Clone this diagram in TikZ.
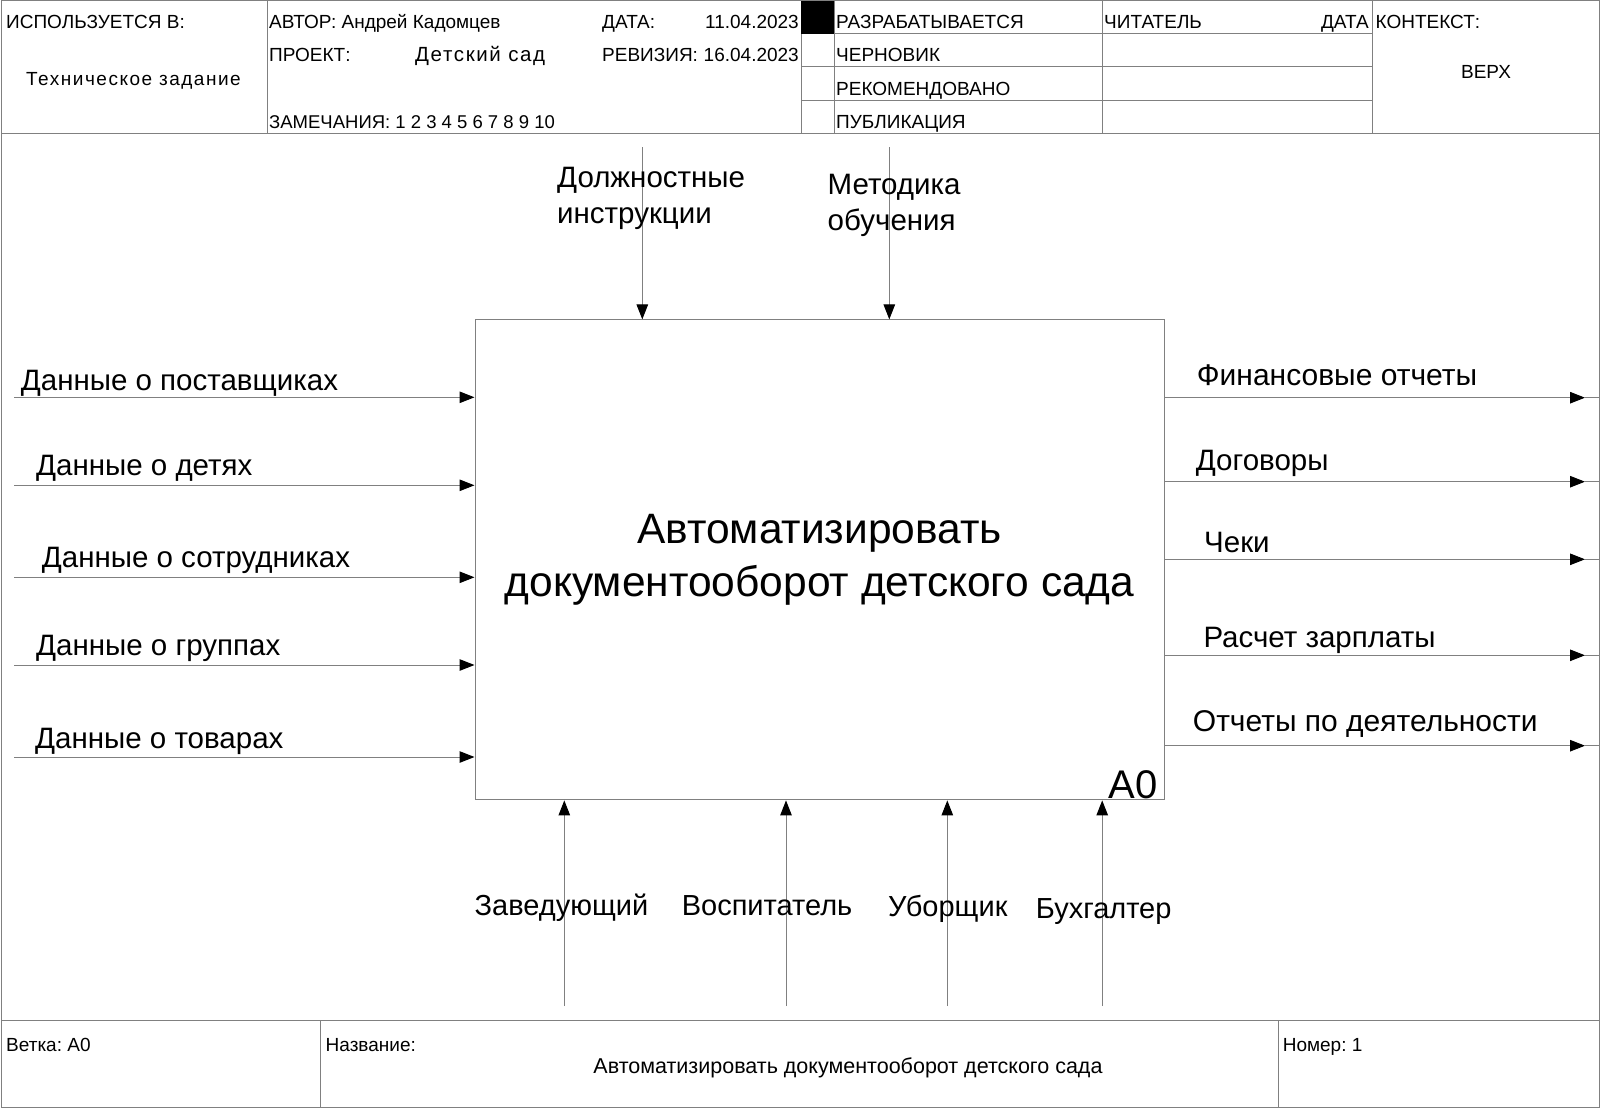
\documentclass[tikz,border=0pt]{standalone}
\usepackage{fontspec}
\setmainfont{Liberation Sans}
\newfontfamily\spfont[LetterSpace=8]{Liberation Sans}
\usetikzlibrary{arrows.meta}
\definecolor{lg}{RGB}{128,128,128}
\newcommand{\fsz}[1]{\fontsize{#1}{#1}\selectfont}
\frenchspacing
\begin{document}
\begin{tikzpicture}[x=1pt,y=-1pt,
  ln/.style={draw=lg,line width=1pt},
  arr/.style={ln,-{Triangle[length=15pt,width=11.5pt,color=black]}},
  hdr/.style={font=\fsz{19}, anchor=base west, inner sep=0pt},
  hdrc/.style={hdr, anchor=base},
  hdre/.style={hdr, anchor=base east},
  lbl/.style={font=\fsz{29.5}, anchor=base west, inner sep=0pt},
]
\useasboundingbox (0,0) rectangle (1600,1108);
\fill[white] (0,0) rectangle (1600,1108);

% frame and header/footer grid
\draw[ln] (1,1) rectangle (1599,1107);
\draw[ln] (1,133) -- (1599,133);
\draw[ln] (1,1020) -- (1599,1020);
\foreach \x in {267,801,834,1102,1372} \draw[ln] (\x,1) -- (\x,133);
\foreach \y in {34,67,100} \draw[ln] (801,\y) -- (1372,\y);
\fill[black] (801,1) rectangle (834,34);
\foreach \x in {320,1278} \draw[ln] (\x,1020) -- (\x,1107);

% header texts
\node[hdr] (usedin) at (6,28.8) {ИСПОЛЬЗУЕТСЯ В:};
\node[hdrc,font=\spfont\fsz{19}] (tz) at (133.5,85.7) {Техническое задание};
\node[hdr] (author) at (269,28.8) {АВТОР: Андрей Кадомцев};
\node[hdr] (date) at (602,28.8) {ДАТА:};
\node[hdre] (dateval) at (799,28.8) {11.04.2023};
\node[hdr] (proj) at (269,62) {ПРОЕКТ:};
\node[hdr,font=\spfont\fsz{20.5}] (projval) at (415,62) {Детский сад};
\node[hdr] (rev) at (602,62) {РЕВИЗИЯ:};
\node[hdre] (revval) at (799,62) {16.04.2023};
\node[hdr,font=\fsz{18.5}] (notes) at (269,128) {ЗАМЕЧАНИЯ: 1 2 3 4 5 6 7 8 9 10};
\node[hdr] (st1) at (836,28.8) {РАЗРАБАТЫВАЕТСЯ};
\node[hdr] (st2) at (836,62) {ЧЕРНОВИК};
\node[hdr] (st3) at (836,95) {РЕКОМЕНДОВАНО};
\node[hdr] (st4) at (836,128) {ПУБЛИКАЦИЯ};
\node[hdr] (reader) at (1104,28.8) {ЧИТАТЕЛЬ};
\node[hdre] (rdate) at (1369,28.8) {ДАТА};
\node[hdr] (ctx) at (1375.5,28.8) {КОНТЕКСТ:};
\node[hdrc] (top) at (1486,78.5) {ВЕРХ};

% footer texts
\node[hdr] (branch) at (6,1051) {Ветка: А0};
\node[hdr] (title) at (325.5,1051) {Название:};
\node[hdr] (num) at (1282.6,1051) {Номер: 1};
\node[hdrc,font=\fsz{21.5}] (ftitle) at (848,1073.5) {Автоматизировать документооборот детского сада};

% main box
\node[draw=lg, line width=1pt, minimum width=689pt, minimum height=480pt, inner sep=0pt,
      anchor=north west, font=\fontsize{42.5}{53}\selectfont, align=center] (box)
      at (474.5,319.4) {Автоматизировать\\документооборот детского сада};
\node[font=\fsz{40}, anchor=base east, inner sep=0pt] (a0) at (1158,798.3) {A0};

% inputs
\foreach \n/\y in {1/397.3,2/485.3,3/577.3,4/665,5/757}
  \coordinate (i\n) at (14,\y);
\foreach \n in {1,...,5} \draw[arr] (i\n) -- (i\n -| box.west);
\node[lbl] (li1) at (20.7,390.7) {Данные о поставщиках};
\node[lbl] (li2) at (36,475) {Данные о детях};
\node[lbl] (li3) at (41.7,567.3) {Данные о сотрудниках};
\node[lbl] (li4) at (36,655) {Данные о группах};
\node[lbl] (li5) at (35,748.3) {Данные о товарах};

% outputs
\foreach \n/\y in {1/397.7,2/481.7,3/559.3,4/655.3,5/745.7}{
  \coordinate (o\n) at (1599,\y);
  \coordinate (ot\n) at (1585,\y);
}
\foreach \n in {1,...,5}{
  \draw[arr] (box.east |- ot\n) -- (ot\n);
  \draw[ln] (ot\n) -- (o\n);
}
\node[lbl,font=\fsz{30}] (lo1) at (1196.7,385) {Финансовые отчеты};
\node[lbl] (lo2) at (1195.7,470) {Договоры};
\node[lbl] (lo3) at (1204,552.7) {Чеки};
\node[lbl] (lo4) at (1203.3,647.3) {Расчет зарплаты};
\node[lbl,font=\fsz{30}] (lo5) at (1192.7,731.7) {Отчеты по деятельности};

% controls
\coordinate (c1) at (642.3,147);
\coordinate (c2) at (889.3,147);
\foreach \n in {1,2} \draw[arr] (c\n) -- (c\n |- box.north);
\node[lbl] (lc1a) at (557,187) {Должностные};
\node[lbl] (lc1b) at (557,223) {инструкции};
\node[lbl] (lc2a) at (827.5,194) {Методика};
\node[lbl] (lc2b) at (827.5,230) {обучения};

% mechanisms
\foreach \n/\x in {1/564.3,2/786,3/947.3,4/1102.2}
  \coordinate (m\n) at (\x,1006);
\foreach \n in {1,...,4} \draw[arr] (m\n) -- (m\n |- box.south);
\node[lbl,font=\fsz{29}] (lm1) at (474.5,915) {Заведующий};
\node[lbl,font=\fsz{29}] (lm2) at (681.6,915) {Воспитатель};
\node[lbl,font=\fsz{29}] (lm3) at (887.8,916) {Уборщик};
\node[lbl,font=\fsz{29}] (lm4) at (1035.7,918.5) {Бухгалтер};
\end{tikzpicture}
\end{document}
